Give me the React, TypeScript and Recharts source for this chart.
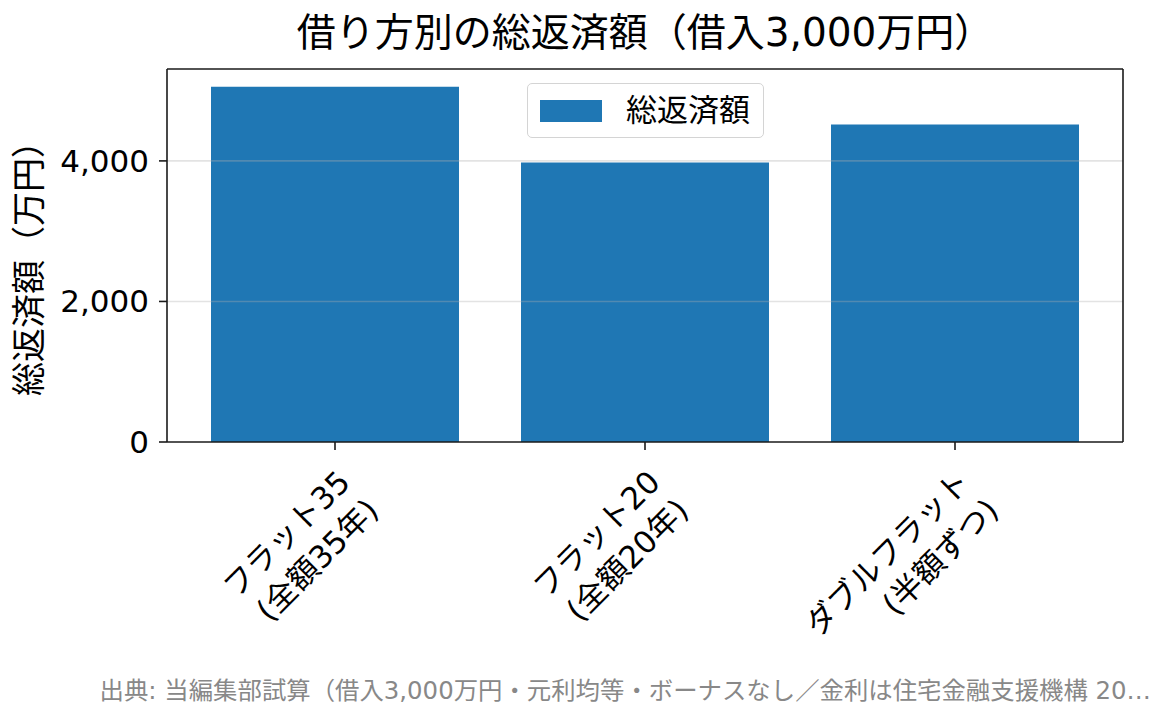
import React from "react";
import {
  Bar,
  BarChart,
  Legend,
  ReferenceLine,
  XAxis,
  YAxis,
} from "recharts";

const categories = ["フラット35\n(全額35年)", "フラット20\n(全額20年)", "ダブルフラット\n(半額ずつ)"];
const totalRepayment = [5055, 3978, 4518];
const yTicks = [0, 2000, 4000];

const seriesName = "総返済額";
const title = "借り方別の総返済額（借入3,000万円）";
const yLabel = "総返済額（万円）";
const footnote =
  "出典: 当編集部試算（借入3,000万円・元利均等・ボーナスなし／金利は住宅金融支援機構 20…";

const BLUE = "#1f77b4";
const INK = "#1a1a1a";
const FONT = "'DejaVu Sans', 'Noto Sans CJK JP', sans-serif";

const data = categories.map((name, i) => ({ name, total: totalRepayment[i] }));

function RotatedTick(props: any) {
  const { x, y, payload } = props;
  const lines = String(payload.value).split("\n");
  return (
    <g transform={`translate(${x + 17},${y + 32})`}>
      <text
        transform="rotate(-45)"
        textAnchor="end"
        fontFamily={FONT}
        fontSize={31}
        fill="#000"
      >
        {lines.map((line, i) => (
          <tspan key={i} x={0} dy={i === 0 ? 0 : 40}>
            {line}
          </tspan>
        ))}
      </text>
    </g>
  );
}

function LegendBox(props: any) {
  const item = props.payload?.[0];
  return (
    <div
      style={{
        boxSizing: "border-box",
        width: 237,
        height: 55,
        border: "1.5px solid #d4d4d4",
        borderRadius: 5,
        background: "rgba(255,255,255,0.8)",
        display: "flex",
        alignItems: "center",
        paddingLeft: 12,
        fontFamily: FONT,
        fontSize: 31,
        color: "#000",
      }}
    >
      <span
        style={{
          display: "inline-block",
          width: 62,
          height: 22,
          background: item?.color ?? BLUE,
          marginRight: 24,
        }}
      />
      <span style={{ lineHeight: "31px" }}>{item?.value ?? seriesName}</span>
    </div>
  );
}

export default function App() {
  return (
    <div
      style={{
        position: "absolute",
        left: 0,
        top: 0,
        width: 1165,
        height: 725,
        background: "#fff",
        fontFamily: FONT,
      }}
    >
      <BarChart
        width={1165}
        height={725}
        data={data}
        margin={{ top: 68, right: 41, bottom: 0, left: 0 }}
        barCategoryGap="10%"
      >
        <XAxis
          dataKey="name"
          height={283}
          interval={0}
          padding={{ left: 13, right: 13 }}
          tick={<RotatedTick />}
          tickSize={8}
          tickMargin={2}
          axisLine={{ stroke: INK, strokeWidth: 1.6 }}
          tickLine={{ stroke: INK, strokeWidth: 1.6 }}
        />
        <XAxis
          xAxisId="top"
          orientation="top"
          dataKey="name"
          height={1}
          padding={{ left: 13, right: 13 }}
          tick={false}
          tickLine={false}
          axisLine={{ stroke: INK, strokeWidth: 1.6 }}
        />
        <YAxis
          width={167}
          domain={[0, (max: number) => max * 1.05]}
          ticks={yTicks}
          tickFormatter={(v: number) => v.toLocaleString("en-US")}
          tick={{ fontSize: 31, fill: "#000", fontFamily: FONT }}
          tickSize={8}
          tickMargin={10}
          axisLine={{ stroke: INK, strokeWidth: 1.6 }}
          tickLine={{ stroke: INK, strokeWidth: 1.6 }}
        />
        <YAxis
          yAxisId="right"
          orientation="right"
          width={1}
          domain={[0, (max: number) => max * 1.05]}
          tick={false}
          tickLine={false}
          axisLine={{ stroke: INK, strokeWidth: 1.6 }}
        />
        <Bar dataKey="total" name={seriesName} fill={BLUE} isAnimationActive={false} />
        {yTicks
          .filter((t) => t > 0)
          .map((t) => (
            <ReferenceLine
              key={t}
              y={t}
              stroke="#b0b0b0"
              strokeOpacity={0.35}
              strokeWidth={1.6}
            />
          ))}
        <Legend
          layout="horizontal"
          verticalAlign="middle"
          align="center"
          content={<LegendBox />}
          wrapperStyle={{ left: 527, top: 83, width: 237, height: 55 }}
        />
      </BarChart>

      <div
        style={{
          position: "absolute",
          left: 167,
          width: 956,
          top: 13,
          textAlign: "center",
          fontSize: 39,
          lineHeight: "39px",
          whiteSpace: "nowrap",
          color: "#000",
        }}
      >
        {title}
      </div>

      <div
        style={{
          position: "absolute",
          left: 29 - 200,
          top: 260 - 17,
          width: 400,
          height: 34,
          textAlign: "center",
          fontSize: 34,
          lineHeight: "34px",
          transform: "rotate(-90deg)",
          whiteSpace: "nowrap",
          color: "#000",
        }}
      >
        {yLabel}
      </div>

      <div
        style={{
          position: "absolute",
          right: 14,
          top: 679,
          textAlign: "right",
          fontSize: 24.4,
          lineHeight: "24px",
          whiteSpace: "nowrap",
          color: "#888",
        }}
      >
        {footnote}
      </div>
    </div>
  );
}
